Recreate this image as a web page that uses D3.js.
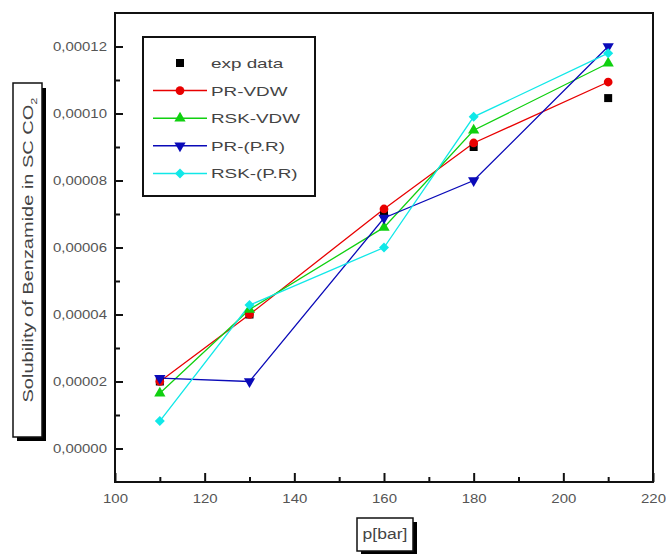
<html>
<head>
<style>
  body { margin: 0; background: #fff; font-family: Arial, "Liberation Sans", sans-serif; }
</style>
</head>
<body>
<script src="https://d3js.org/d3.v7.min.js"></script>
<script>
// data
var pressure = [110, 130, 160, 180, 210];
var expData = [0.0000200, 0.0000400, 0.0000700, 0.0000900, 0.0001046];
var prVdw   = [0.0000200, 0.0000400, 0.0000715, 0.0000912, 0.0001094];
var rskVdw  = [0.0000165, 0.0000415, 0.0000660, 0.0000950, 0.0001150];
var prPR    = [0.0000210, 0.0000200, 0.0000688, 0.0000800, 0.0001200];
var rskPR   = [0.0000082, 0.0000428, 0.0000600, 0.0000990, 0.0001180];

var seriesNames = ['exp data', 'PR-VDW', 'RSK-VDW', 'PR-(P.R)', 'RSK-(P.R)'];
var xTicks = [100, 120, 140, 160, 180, 200, 220];
var xMinor = [110, 130, 150, 170, 190, 210];
var yTicks = [0, 0.00002, 0.00004, 0.00006, 0.00008, 0.00010, 0.00012];
var yMinor = [0.00001, 0.00003, 0.00005, 0.00007, 0.00009, 0.00011];

var width = 666, height = 554;
var plot = {left: 115, right: 653, top: 13, bottom: 482};

var svg = d3.select('body').append('svg')
    .attr('width', width)
    .attr('height', height);

// stretch text horizontally like the original picture
function stretch(sel, k) {
  sel.each(function() {
    var w = this.getComputedTextLength();
    d3.select(this).attr('textLength', w * k).attr('lengthAdjust', 'spacingAndGlyphs');
  });
}

var x = d3.scaleLinear().domain([100, 220]).range([plot.left, plot.right]);
var y = d3.scaleLinear().domain([-0.00001, 0.00013]).range([plot.bottom, plot.top]);

// frame
svg.append('rect')
  .attr('x', plot.left).attr('y', plot.top)
  .attr('width', plot.right - plot.left).attr('height', plot.bottom - plot.top)
  .attr('fill', 'none').attr('stroke', '#111').attr('stroke-width', 2);

// axes, ticks pointing inward
var fmtY = function(d) { return d3.format('.5f')(d).replace('.', ','); };

var xAxis = svg.append('g')
  .attr('transform', 'translate(0,' + plot.bottom + ')')
  .call(d3.axisBottom(x).tickValues(xTicks).tickSize(-9).tickPadding(12));
svg.append('g')
  .attr('transform', 'translate(0,' + plot.bottom + ')')
  .call(d3.axisBottom(x).tickValues(xMinor).tickSize(-5).tickFormat(''));

var yAxis = svg.append('g')
  .attr('transform', 'translate(' + plot.left + ',0)')
  .call(d3.axisLeft(y).tickValues(yTicks).tickSize(-8).tickPadding(8).tickFormat(fmtY));
svg.append('g')
  .attr('transform', 'translate(' + plot.left + ',0)')
  .call(d3.axisLeft(y).tickValues(yMinor).tickSize(-5).tickFormat(''));

svg.selectAll('.domain').remove();
svg.selectAll('.tick line').attr('stroke', '#111').attr('stroke-width', 2);
svg.selectAll('.tick text')
  .attr('fill', '#555')
  .style('font-size', '13px')
  .style('font-family', 'Arial, "Liberation Sans", sans-serif')
  .call(stretch, 1.15);

// series
var series = [
  {name: seriesNames[0], values: expData, color: '#000000', symbol: 'square', line: false},
  {name: seriesNames[1], values: prVdw, color: '#e80000', symbol: 'circle', line: true},
  {name: seriesNames[2], values: rskVdw, color: '#10d010', symbol: 'up', line: true},
  {name: seriesNames[3], values: prPR, color: '#0a0ab8', symbol: 'down', line: true},
  {name: seriesNames[4], values: rskPR, color: '#10e8e8', symbol: 'diamond', line: true}
];

function symbolPath(kind) {
  if (kind === 'square') return d3.symbol(d3.symbolSquare, 64)();
  if (kind === 'circle') return d3.symbol(d3.symbolCircle, 60)();
  if (kind === 'diamond') return d3.symbol(d3.symbolSquare, 50)();
  return d3.symbol(d3.symbolTriangle, 55)();
}
function symbolRotate(kind) {
  if (kind === 'down') return 180;
  if (kind === 'diamond') return 45;
  return 0;
}

var line = d3.line()
  .x(function(d, i) { return x(pressure[i]); })
  .y(function(d) { return y(d); });

series.forEach(function(s) {
  if (s.line) {
    svg.append('path')
      .datum(s.values)
      .attr('fill', 'none')
      .attr('stroke', s.color)
      .attr('stroke-width', 1.3)
      .attr('d', line);
  }
});

series.forEach(function(s) {
  svg.append('g').selectAll('path')
    .data(s.values)
    .enter()
    .append('path')
    .attr('d', symbolPath(s.symbol))
    .attr('fill', s.color)
    .attr('transform', function(d, i) {
      return 'translate(' + x(pressure[i]) + ',' + y(d) + ') rotate(' + symbolRotate(s.symbol) + ')';
    });
});

// legend
var legend = svg.append('g');
legend.append('rect')
  .attr('x', 143).attr('y', 37).attr('width', 172).attr('height', 159)
  .attr('fill', '#fff').attr('stroke', '#111').attr('stroke-width', 2);

var items = legend.selectAll('.item')
  .data(series)
  .enter()
  .append('g')
  .attr('class', 'item')
  .attr('transform', function(d, i) { return 'translate(0,' + (63 + i * 27.6) + ')'; });

items.filter(function(d) { return d.line; })
  .append('line')
  .attr('x1', 153).attr('x2', 207)
  .attr('stroke', function(d) { return d.color; })
  .attr('stroke-width', 1.5);

items.append('path')
  .attr('d', function(d) { return symbolPath(d.symbol); })
  .attr('fill', function(d) { return d.color; })
  .attr('transform', function(d) { return 'translate(180,0) rotate(' + symbolRotate(d.symbol) + ')'; });

items.append('text')
  .attr('x', 211)
  .attr('y', 5)
  .attr('fill', '#444')
  .style('font-size', '13px')
  .text(function(d) { return d.name; })
  .call(stretch, 1.45);

// y axis title box with shadow
svg.append('rect').attr('x', 17).attr('y', 88).attr('width', 29).attr('height', 353).attr('fill', '#000');
svg.append('rect').attr('x', 13).attr('y', 83).attr('width', 29).attr('height', 354)
  .attr('fill', '#fff').attr('stroke', '#111').attr('stroke-width', 1.5);

var yTitle = svg.append('text')
  .attr('transform', 'translate(33,250) rotate(-90)')
  .attr('text-anchor', 'middle')
  .attr('fill', '#444')
  .style('font-size', '14px');
yTitle.append('tspan').text('Solubility of Benzamide in SC CO');
yTitle.append('tspan').attr('dy', 4).style('font-size', '9px').text('2');
yTitle.attr('textLength', 305).attr('lengthAdjust', 'spacingAndGlyphs');

// x axis title box with shadow
svg.append('rect').attr('x', 361).attr('y', 522).attr('width', 56).attr('height', 33).attr('fill', '#000');
svg.append('rect').attr('x', 357).attr('y', 518).attr('width', 56).attr('height', 33)
  .attr('fill', '#fff').attr('stroke', '#111').attr('stroke-width', 1.5);
svg.append('text')
  .attr('x', 385)
  .attr('y', 539)
  .attr('text-anchor', 'middle')
  .attr('fill', '#444')
  .style('font-size', '14px')
  .text('p[bar]')
  .call(stretch, 1.25);
</script>
</body>
</html>
